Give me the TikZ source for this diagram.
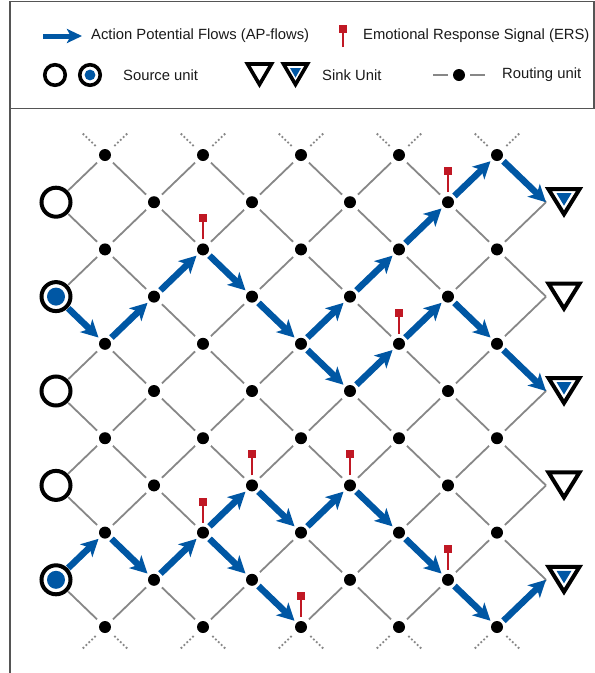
\documentclass[tikz,border=0pt]{standalone}
\usepackage{fontspec}
\setmainfont{Liberation Sans}
\usetikzlibrary{arrows.meta}
\definecolor{apblue}{RGB}{0,87,164}
\definecolor{ersred}{RGB}{192,24,36}
\definecolor{gridgray}{RGB}{135,135,135}
\definecolor{framegray}{RGB}{85,85,85}
\definecolor{txt}{RGB}{26,26,26}
\tikzset{
  routing/.style={circle, fill=black, inner sep=0pt, minimum size=12pt, outer sep=5pt},
  srcunit/.style={circle, draw=black, line width=4pt, inner sep=0pt, minimum size=29pt, outer sep=2.5pt},
  legsrc/.style={circle, draw=black, line width=3.6pt, inner sep=0pt, minimum size=20.5pt},
  gridline/.style={draw=gridgray, line width=1.8pt},
  stub/.style={draw=gridgray, line width=1.8pt, dash pattern=on 1.8pt off 2.2pt, shorten <=2pt},
  apflow/.style={draw=apblue, line width=6.5pt, -{Stealth[length=17pt,width=17.5pt,inset=4.5pt]}},
  nearstart/.style={shorten <=-2pt},
  nearend/.style={shorten >=-2pt},
  leglow/.style={draw=apblue, line width=5pt, -{Stealth[length=15pt,width=14pt,inset=3.5pt]}},
  sinkline/.style={draw=black, line width=4pt, line join=miter},
  legsink/.style={draw=black, line width=3.6pt, line join=miter},
  ersstem/.style={draw=ersred, line width=2.5pt},
  legtext/.style={anchor=west, inner sep=0pt, text=txt, font=\fontsize{14.8}{17}\selectfont},
  framel/.style={draw=framegray, line width=1.4pt}
}
\begin{document}
\begin{tikzpicture}[x=1pt,y=-1pt]
\useasboundingbox (0,0) rectangle (595,673);
\fill[white] (0,0) rectangle (595,673);

% frame
\draw[framel] (10,1.5) rectangle (594,108.5);
\draw[framel] (10,108.5) -- (10,673);

% legend
\coordinate (la1) at (43,36);
\coordinate (la2) at (82,36);
\draw[leglow] (la1) -- (la2);
\node[legtext] (lt1) at (91,36) {Action Potential Flows (AP-flows)};
\draw[ersstem] (343,47) -- (343,32.5);
\fill[ersred] (339,25) rectangle (347,33);
\node[legtext] (lt2) at (363,36) {Emotional Response Signal (ERS)};

\node[legsrc] (ls1) at (55,75) {};
\node[legsrc] (ls2) at (90,75) {};
\fill[apblue] (ls2.center) circle (5.4pt);
\node[legtext] (lt3) at (123,75) {Source unit};

\draw[legsink] (247.5,64) -- (271.5,64) -- (259.5,84.5) -- cycle;
\draw[legsink] (283.5,64) -- (307.5,64) -- (295.5,84.5) -- cycle;
\fill[apblue] (290,68) -- (301,68) -- (295.5,77.5) -- cycle;
\node[legtext] (lt4) at (322,75) {Sink Unit};

\node[routing] (lr) at (459,75) {};
\coordinate (lrl) at (433,75);
\coordinate (lrr) at (485,75);
\draw[gridgray, line width=1.4pt] (lr) -- (lrl);
\draw[gridgray, line width=1.4pt] (lr) -- (lrr);
\node[legtext] (lt5) at (502,75) {Routing unit};

% routing units
\foreach \k in {1,...,9}{
  \foreach \r in {0,...,10}{
    \pgfmathtruncatemacro\pty{mod(\k+\r,2)}
    \ifnum\pty=1
      \node[routing] (v-\k-\r) at ({105+49*(\k-1)},{155+47.2*\r}) {};
    \fi
  }
}
% source units
\foreach \r in {1,3,5,7,9}{
  \node[srcunit] (v-0-\r) at (56,{155+47.2*\r}) {};
}
\foreach \r in {3,9}{
  \fill[apblue] (v-0-\r.center) circle (9pt);
}
% sink units
\foreach \r in {1,3,5,7,9}{
  \pgfmathsetmacro\yy{155+47.2*\r}
  \coordinate (v-10-\r) at (546,\yy);
  \draw[sinkline] (548.5,{\yy-13}) -- (579.5,{\yy-13}) -- (564,{\yy+12}) -- cycle;
}
\foreach \r in {1,5,9}{
  \pgfmathsetmacro\yy{155+47.2*\r}
  \fill[apblue] (556.5,{\yy-9}) -- (571.5,{\yy-9}) -- (564,{\yy+3.5}) -- cycle;
}

% grid edges
\foreach \k in {0,...,9}{
  \foreach \r in {0,...,10}{
    \pgfmathtruncatemacro\pty{mod(\k+\r,2)}
    \pgfmathtruncatemacro\kn{\k+1}
    \pgfmathtruncatemacro\ru{\r-1}
    \pgfmathtruncatemacro\rd{\r+1}
    \ifnum\pty=1
      \ifnum\r>0 \draw[gridline] (v-\k-\r) -- (v-\kn-\ru); \fi
      \ifnum\r<10 \draw[gridline] (v-\k-\r) -- (v-\kn-\rd); \fi
    \fi
  }
}
% dotted stubs
\foreach \k in {1,3,5,7,9}{
  \draw[stub] (v-\k-0) -- ++(-23,-22.2);
  \draw[stub] (v-\k-0) -- ++(23,-22.2);
  \draw[stub] (v-\k-10) -- ++(-23,22.2);
  \draw[stub] (v-\k-10) -- ++(23,22.2);
}

% AP flows: from source units
\foreach \a/\b in {0-3/1-4, 0-9/1-8}{
  \draw[apflow, nearend] (v-\a) -- (v-\b);
}
% AP flows: between routing units
\foreach \a/\b in {1-4/2-3, 2-3/3-2, 3-2/4-3, 4-3/5-4,
  5-4/6-3, 6-3/7-2, 7-2/8-1, 8-1/9-0,
  5-4/6-5, 6-5/7-4, 7-4/8-3, 8-3/9-4,
  1-8/2-9, 2-9/3-8,
  3-8/4-7, 4-7/5-8, 5-8/6-7, 6-7/7-8, 7-8/8-9, 8-9/9-10,
  3-8/4-9, 4-9/5-10}{
  \draw[apflow, nearstart, nearend] (v-\a) -- (v-\b);
}
% AP flows: into sink units
\foreach \a/\b in {9-0/10-1, 9-4/10-5, 9-10/10-9}{
  \draw[apflow, nearstart] (v-\a) -- (v-\b);
}

% ERS markers
\foreach \k/\r in {3/2, 8/1, 7/4, 3/8, 4/7, 6/7, 8/9, 5/10}{
  \draw[ersstem] ([yshift=10pt]v-\k-\r.center) -- ([yshift=27.5pt]v-\k-\r.center);
  \fill[ersred] ([xshift=-4pt,yshift=27pt]v-\k-\r.center) rectangle ([xshift=4pt,yshift=35pt]v-\k-\r.center);
}
\end{tikzpicture}
\end{document}
